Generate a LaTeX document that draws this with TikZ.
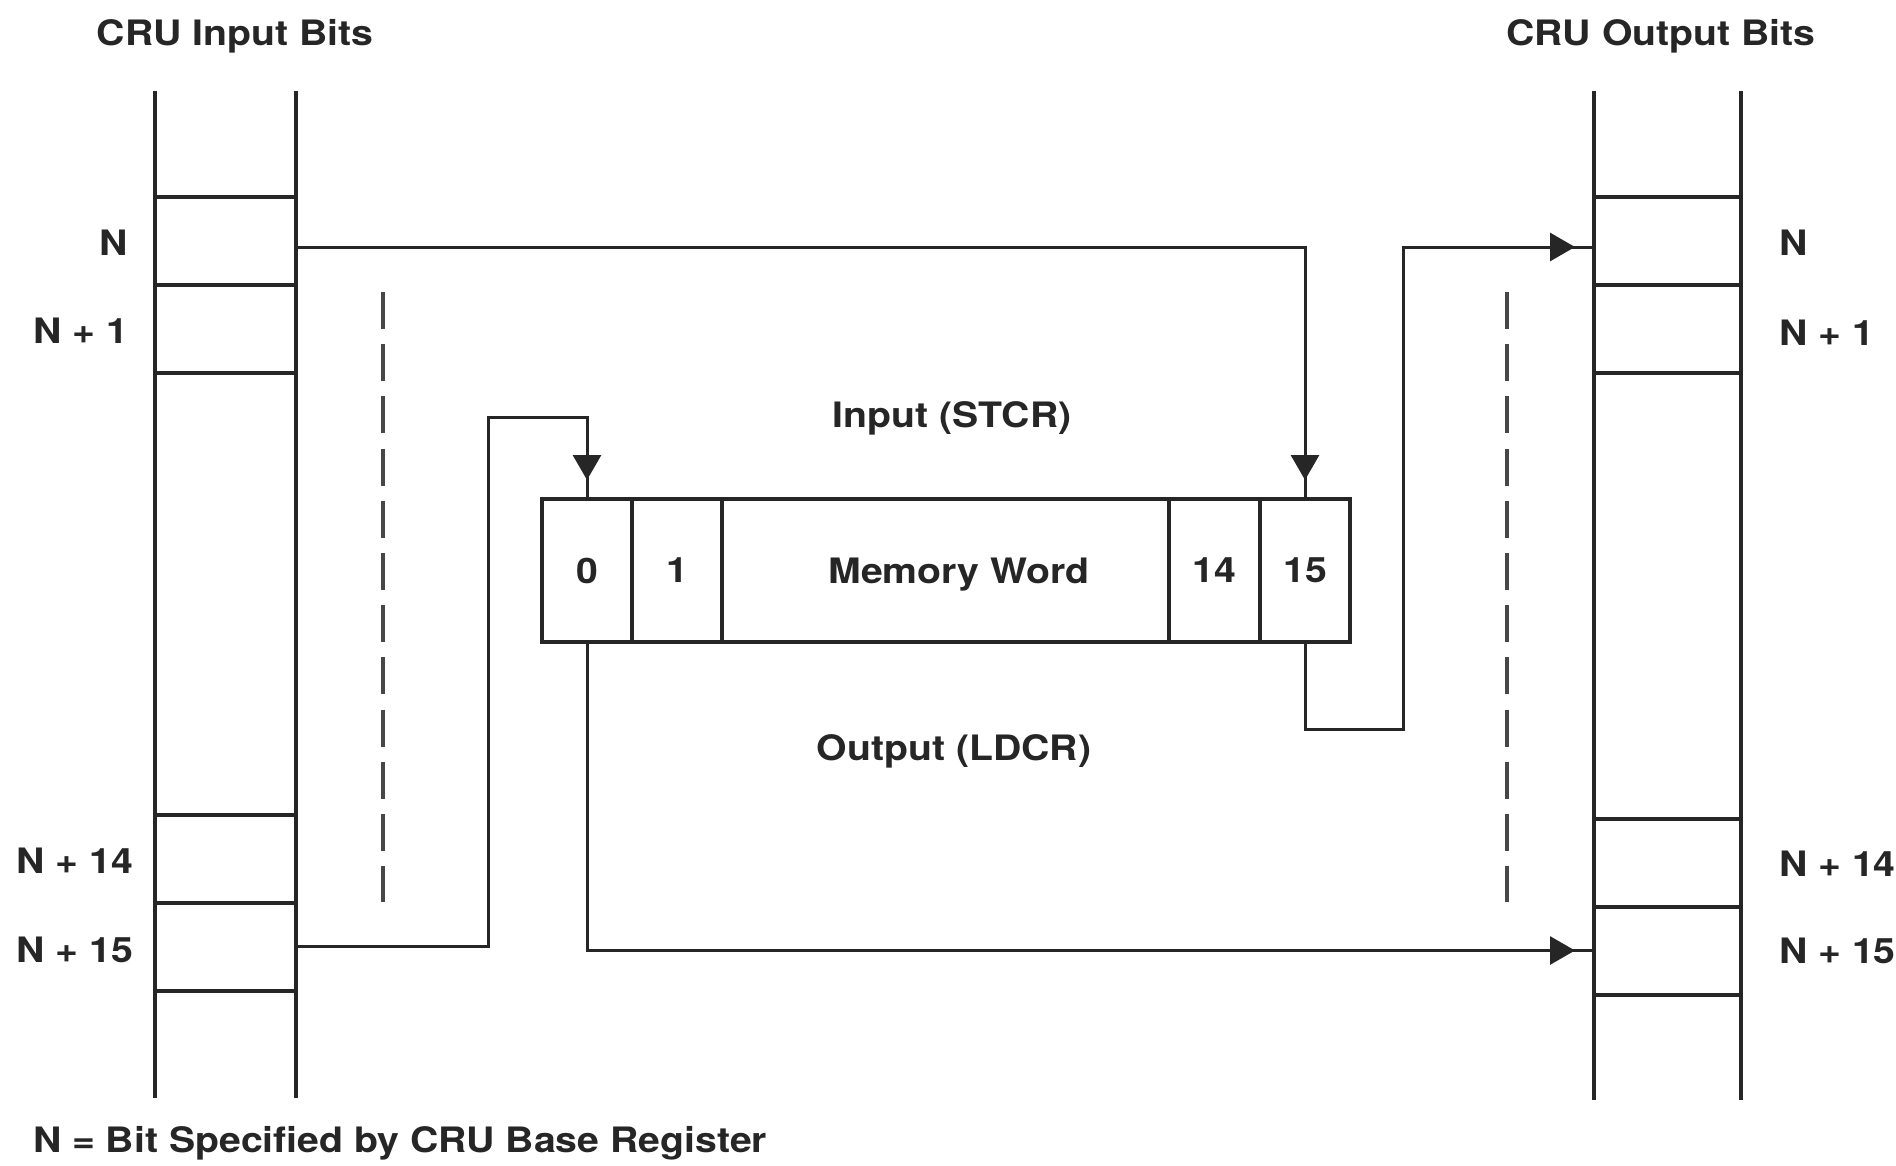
\documentclass[tikz,border=0pt]{standalone}
\usepackage{fontspec}
\setmainfont[FakeStretch=1.12]{TeX Gyre Heros}
\usetikzlibrary{arrows.meta,decorations.markings}
\definecolor{ink}{HTML}{262626}
\tikzset{
  lbl/.style={inner sep=0pt, outer sep=0pt, text=ink, font=\fontsize{35}{40}\selectfont\bfseries},
  rail/.style={draw=ink, line width=4pt},
  regcell/.style={draw=ink, line width=4pt, inner sep=0pt, outer sep=0pt, minimum height=88pt},
  memcell/.style={draw=ink, line width=4pt, inner sep=0pt, outer sep=0pt, minimum height=143pt, text=ink, font=\fontsize{35}{40}\selectfont\bfseries},
  conn/.style={draw=ink, line width=3pt},
  tipped/.style={postaction={decorate}, decoration={markings, mark=at position -19pt with {\arrow{Triangle[length=25pt,width=28pt]}}}},
  guide/.style={draw=ink!85, line width=3.4pt, dash pattern=on 37pt off 15.2pt}
}
\begin{document}
\begin{tikzpicture}[x=1pt,y=-1pt]
\useasboundingbox[fill=white] (0,0) rectangle (1896,1165);

% left register (CRU input bits)
\draw[rail] (155,91) -- (155,1098);
\draw[rail] (296,91) -- (296,1098);
\node[regcell, minimum width=141pt] (inN)   at (225.5,241) {};
\node[regcell, minimum width=141pt] (inN1)  at (225.5,329) {};
\node[regcell, minimum width=141pt] (inN14) at (225.5,858.5) {};
\node[regcell, minimum width=141pt] (inN15) at (225.5,946.5) {};

% right register (CRU output bits)
\draw[rail] (1594,91) -- (1594,1100);
\draw[rail] (1741,91) -- (1741,1100);
\node[regcell, minimum width=147pt] (outN)   at (1667.5,241) {};
\node[regcell, minimum width=147pt] (outN1)  at (1667.5,329) {};
\node[regcell, minimum width=147pt] (outN14) at (1667.5,862.5) {};
\node[regcell, minimum width=147pt] (outN15) at (1667.5,950.5) {};

% memory word
\node[memcell, minimum width=90pt]  (m0)  at (587,570.5) {0};
\node[memcell, minimum width=90pt]  (m1)  at (677,570.5) {1};
\node[memcell, minimum width=447pt] (mw)  at (945.5,570.5) {};
\node[memcell, minimum width=91pt]  (m14) at (1214.5,570.5) {14};
\node[memcell, minimum width=90pt]  (m15) at (1305,570.5) {15};
\node[lbl, anchor=base] (mwtext) at (959,583) {Memory Word};

% dashed guides
\draw[guide] (383,292) -- (383,902);
\draw[guide] (1507,292) -- (1507,902);

% helper bends
\coordinate (c1) at (488,417);
\coordinate (c2) at (1403,729);

% connectors
\draw[conn, tipped] ([yshift=-6pt]inN.east) -| (m15.north);
\draw[conn, tipped] (inN15.east) -| (c1) -| (m0.north);
\draw[conn, tipped] (m0.south) |- (outN15.west);
\draw[conn, tipped] (m15.south) |- (c2) |- ([yshift=-6pt]outN.west);

% labels
\node[lbl, anchor=base] (tin)  at (235,45) {CRU Input Bits};
\node[lbl, anchor=base] (tout) at (1661,45) {CRU Output Bits};
\node[lbl, anchor=base east] (lN)   at (128,255) {N};
\node[lbl, anchor=base east] (lN1)  at (128,343) {N + 1};
\node[lbl, anchor=base east] (lN14) at (133,873) {N + 14};
\node[lbl, anchor=base east] (lN15) at (133,962) {N + 15};
\node[lbl, anchor=base west] (rN)   at (1779,255) {N};
\node[lbl, anchor=base west] (rN1)  at (1779,345) {N + 1};
\node[lbl, anchor=base west] (rN14) at (1779,876) {N + 14};
\node[lbl, anchor=base west] (rN15) at (1779,963) {N + 15};
\node[lbl, anchor=base] (tstcr) at (952,427) {Input (STCR)};
\node[lbl, anchor=base] (tldcr) at (954,760) {Output (LDCR)};
\node[lbl, anchor=base west] (foot) at (33,1152) {N = Bit Specified by CRU Base Register};
\end{tikzpicture}
\end{document}
